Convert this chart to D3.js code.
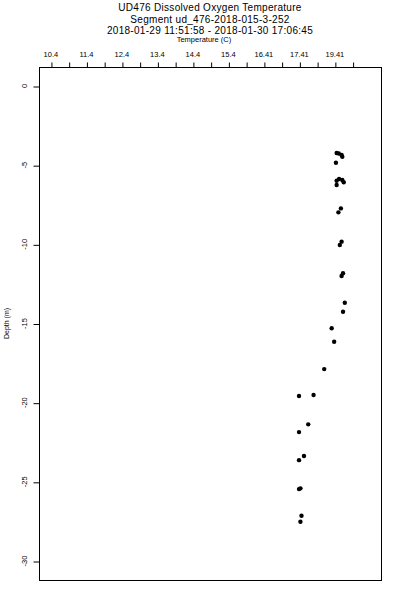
<!DOCTYPE html>
<html>
<head>
<meta charset="utf-8">
<script src="https://cdn.jsdelivr.net/npm/d3@7"></script>
<style>
  body { margin: 0; background: #fff; }
  svg text { font-family: "Liberation Sans", Arial, sans-serif; fill: #000; }
</style>
</head>
<body>
<div class="chart"></div>
<script>
// chart text
const titleLines = [
  "UD476 Dissolved Oxygen Temperature",
  "Segment ud_476-2018-015-3-252",
  "2018-01-29 11:51:58 - 2018-01-30 17:06:45"
];
const xTitle = "Temperature (C)";
const yTitle = "Depth (m)";

// x axis: ticks every 0.5, labels on whole steps (labels as printed in the source)
const xTickValues = [10.4, 10.9, 11.4, 11.9, 12.4, 12.9, 13.4, 13.9, 14.4, 14.9, 15.4, 15.9, 16.4, 16.9, 17.4, 17.9, 18.4, 18.9];
const xLabelValues = [10.4, 11.4, 12.4, 13.4, 14.4, 15.4, 16.4, 17.4, 18.4];
const xLabelText = ["10.4", "11.4", "12.4", "13.4", "14.4", "15.4", "16.41", "17.41", "19.41"];
const yTickValues = [0, -5, -10, -15, -20, -25, -30];

// readings
const temperature = [18.45, 18.51, 18.59, 18.61, 18.43, 18.45, 18.52, 18.61, 18.65, 18.45,
  18.57, 18.50, 18.59, 18.54, 18.63, 18.59, 18.68, 18.63, 18.31, 18.38,
  18.10, 17.80, 17.39, 17.65, 17.39, 17.53, 17.39, 17.43, 17.39, 17.46, 17.43];
const depth = [-4.23, -4.26, -4.36, -4.47, -4.85, -5.98, -5.87, -5.94, -6.08, -6.25,
  -7.73, -7.98, -9.83, -10.04, -11.83, -12.0, -13.69, -14.26, -15.3, -16.15,
  -17.88, -19.52, -19.58, -21.37, -21.86, -23.37, -23.63, -25.41, -25.46, -27.14, -27.52];

const width = 400;
const height = 600;
const margin = { top: 67, right: 19, bottom: 20, left: 38.5 };

const xScale = d3.scaleLinear()
  .domain([10.05, 19.7])
  .range([margin.left, width - margin.right]);

const yScale = d3.scaleLinear()
  .domain([-31.2, 1.2])
  .range([height - margin.bottom, margin.top]);

const svg = d3.select('.chart')
  .append('svg')
  .attr('width', width)
  .attr('height', height);

// titles
svg.selectAll('.title')
  .data(titleLines)
  .enter()
  .append('text')
  .attr('x', 210)
  .attr('y', (d, i) => 11 + i * 11.5)
  .attr('text-anchor', 'middle')
  .style('font-size', '10px')
  .style('letter-spacing', '0.3px')
  .text(d => d);

svg.append('text')
  .attr('x', 204)
  .attr('y', 42)
  .attr('text-anchor', 'middle')
  .style('font-size', '7.5px')
  .text(xTitle);

// box
svg.append('rect')
  .attr('x', Math.round(margin.left) + 0.5)
  .attr('y', margin.top + 0.5)
  .attr('width', Math.round(width - margin.right) - Math.round(margin.left))
  .attr('height', height - margin.bottom - margin.top)
  .attr('fill', 'none')
  .attr('stroke', '#000')
  .attr('stroke-width', 1);

// x axis on top
const xAxis = svg.append('g')
  .attr('transform', `translate(0.5,${margin.top + 0.5})`)
  .call(d3.axisTop(xScale).tickValues(xTickValues).tickSize(5).tickFormat(''));
xAxis.select('.domain').remove();
xAxis.selectAll('line').attr('stroke', '#000');

svg.selectAll('.xlab')
  .data(xLabelValues)
  .enter()
  .append('text')
  .attr('x', d => xScale(d))
  .attr('y', 57)
  .attr('text-anchor', 'middle')
  .style('font-size', '7.5px')
  .text((d, i) => xLabelText[i]);

// y axis
const yAxis = svg.append('g')
  .attr('transform', `translate(${Math.round(margin.left) + 0.5},0.5)`)
  .call(d3.axisLeft(yScale).tickValues(yTickValues).tickSize(6).tickFormat(''));
yAxis.select('.domain').remove();
yAxis.selectAll('line').attr('stroke', '#000');

svg.selectAll('.ylab')
  .data(yTickValues)
  .enter()
  .append('text')
  .attr('transform', d => `translate(27,${yScale(d)}) rotate(-90)`)
  .attr('text-anchor', 'middle')
  .style('font-size', '7.5px')
  .text(d => d);

svg.append('text')
  .attr('transform', `translate(9,${(margin.top + height - margin.bottom) / 2}) rotate(-90)`)
  .attr('text-anchor', 'middle')
  .style('font-size', '7px')
  .text(yTitle);

// points
svg.selectAll('circle')
  .data(temperature)
  .enter()
  .append('circle')
  .attr('cx', d => xScale(d))
  .attr('cy', (d, i) => yScale(depth[i]))
  .attr('r', 2.2)
  .attr('fill', '#000');
</script>
</body>
</html>
